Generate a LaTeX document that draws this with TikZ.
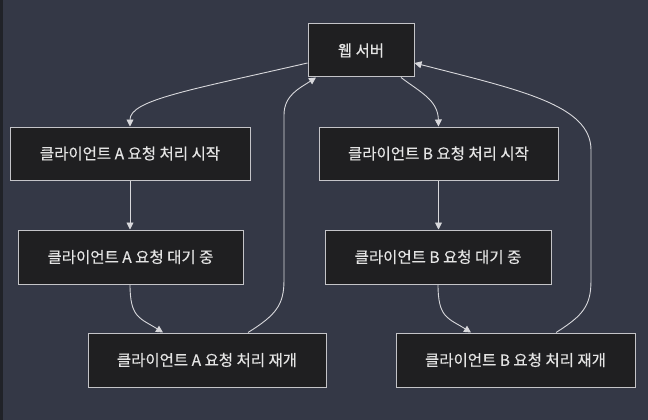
\documentclass[tikz,border=0pt]{standalone}
\usepackage{fontspec}
\setmainfont[FakeBold=0.35]{Noto Sans CJK KR}
\usetikzlibrary{arrows.meta,calc}
\definecolor{bg}{HTML}{343846}
\definecolor{boxc}{HTML}{1F1F21}
\definecolor{bordc}{HTML}{C4C4C8}
\definecolor{txtc}{HTML}{E4E4E4}
\definecolor{linec}{HTML}{D8D8DC}
\definecolor{edgec}{HTML}{202228}
\begin{document}
\begin{tikzpicture}[x=1pt,y=-1pt,
  box/.style={draw=bordc, fill=boxc, line width=1pt, text=txtc,
    font=\fontsize{15.5}{18}\selectfont, minimum height=53pt, inner sep=0pt},
  link/.style={draw=linec, line width=0.9pt, -{Triangle[length=7pt,width=7pt]}}]
\fill[bg] (0,0) rectangle (648,420);
\useasboundingbox (0,0) rectangle (648,420);
\fill[edgec] (0,0) rectangle (3,420);

\node[box, minimum width=106pt] (srv) at (361,50.5) {웹 서버};
\node[box, minimum width=240pt] (as) at (130,153.5) {클라이언트 A 요청 처리 시작};
\node[box, minimum width=239pt] (bs) at (438.5,153.5) {클라이언트 B 요청 처리 시작};
\node[box, minimum width=225pt, minimum height=54pt] (aw) at (130.5,257) {클라이언트 A 요청 대기 중};
\node[box, minimum width=226pt, minimum height=54pt] (bw) at (438,257) {클라이언트 B 요청 대기 중};
\node[box, minimum width=238pt, minimum height=54pt] (ar) at (207,360) {클라이언트 A 요청 처리 재개};
\node[box, minimum width=239pt, minimum height=54pt] (br) at (515.5,360) {클라이언트 B 요청 처리 재개};

% server -> A start
\draw[link] ($(srv.west)+(0,12.5)$) .. controls (190,90) and (130,100) .. (as.north);
% server -> B start
\draw[link] ($(srv.south)+(40,0)$) .. controls (420,92) and (438,100) .. (bs.north);
% start -> wait
\draw[link] (as.south) -- (aw.north -| as.south);
\draw[link] (bs.south) -- (bw.north -| bs.south);
% wait -> resume
\draw[link] ($(aw.south)+(-0.5,0)$) .. controls (130,318) and (140,318) .. ($(ar.north)+(-44,0)$);
\draw[link] (bw.south) .. controls (438,318) and (448,318) .. ($(br.north)+(-44.5,0)$);
% resume A -> server
\draw[link] ($(ar.north)+(41,0)$) .. controls (276,315) and (284,305) .. (284,280)
  -- (284,115) .. controls (284,95) and (300,88) .. ($(srv.south)+(-45,0)$);
% resume B -> server
\draw[link] ($(br.north)+(40.5,0)$) .. controls (584,315) and (591,305) .. (591,280)
  -- (591,150) .. controls (591,105) and (520,90) .. ($(srv.east)+(0,12.5)$);
\end{tikzpicture}
\end{document}
